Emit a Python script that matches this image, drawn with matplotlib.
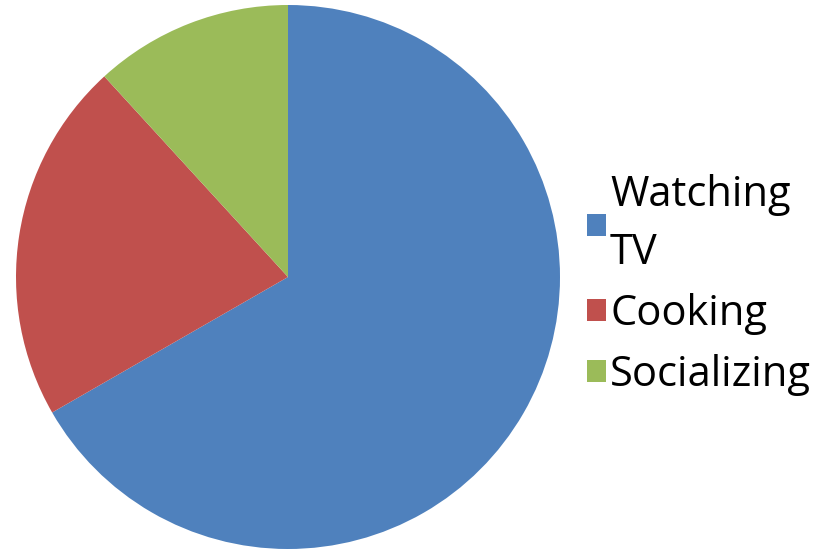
import matplotlib
matplotlib.use("Agg")
import matplotlib.pyplot as plt
from matplotlib.patches import Rectangle

categories = ["Watching\nTV", "Cooking", "Socializing"]
values = [66.7, 21.5, 11.8]
colors = ["#4F81BD", "#C0504D", "#9BBB59"]

W, H = 826, 551
fig = plt.figure(figsize=(W / 100, H / 100), dpi=100)
ax = fig.add_axes([16 / W, 2 / H, 544 / W, 544 / H])
ax.pie(values, colors=colors, startangle=90, counterclock=False, radius=1,
       wedgeprops=dict(linewidth=0))
ax.set_xlim(-1, 1)
ax.set_ylim(-1, 1)
ax.set_aspect("equal")
ax.axis("off")

handles = [Rectangle((0, 0), 1, 1, facecolor=c, edgecolor="none") for c in colors]
leg = fig.legend(handles, categories, loc="center left",
                 bbox_to_anchor=(587 / W, 1 - 285 / H),
                 frameon=False, prop=dict(family="Open Sans", size=30),
                 handlelength=0.455, handleheight=0.455, handletextpad=0.1,
                 labelspacing=0.46, borderpad=0, borderaxespad=0)
for t in leg.get_texts():
    t.set_linespacing(1.48)

fig.savefig("out.png", dpi=100)
